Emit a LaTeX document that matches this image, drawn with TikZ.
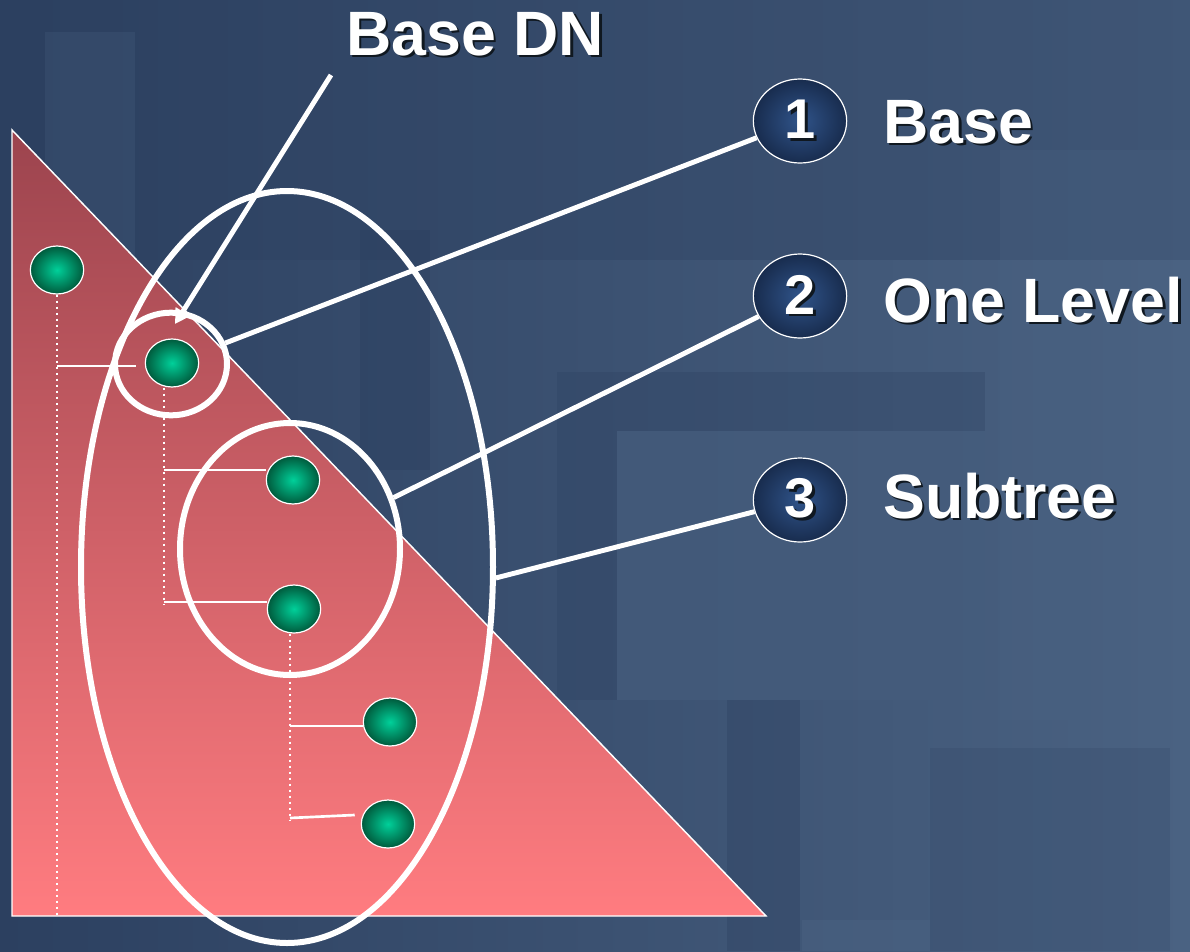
\documentclass[tikz,border=0pt]{standalone}
\usepackage{fontspec}
\setmainfont{Liberation Sans}
\usetikzlibrary{shapes.geometric,calc,arrows.meta}
\definecolor{bgdark}{HTML}{2C4060}
\definecolor{bgmid}{HTML}{3C5373}
\definecolor{bglight}{HTML}{4A6282}
\definecolor{tritop}{HTML}{9C444E}
\definecolor{tribot}{HTML}{FF7C80}
\definecolor{gin}{HTML}{00D09A}
\definecolor{gout}{HTML}{005A3C}
\definecolor{bin}{HTML}{30548A}
\definecolor{bout}{HTML}{182C4E}
\definecolor{shadowc}{HTML}{101820}
\newcommand{\shd}[1]{\makebox[0pt][l]{\hspace{2pt}\raisebox{-2pt}{\color{shadowc}#1}}#1}
\begin{document}
\begin{tikzpicture}[x=0.75pt,y=-0.75pt,
  greennode/.style={ellipse, draw=white, line width=0.9pt, inner sep=0pt,
    minimum width=40pt, minimum height=36pt, inner color=gin, outer color=gout},
  badge/.style={ellipse, draw=white, line width=0.9pt, inner sep=0pt,
    minimum width=70pt, minimum height=63pt, inner color=bin, outer color=bout,
    text=white, font=\fontsize{42}{50}\selectfont\bfseries},
  scopering/.style={ellipse, draw=white, line width=4.5pt, inner sep=0pt},
  lbl/.style={text=white, font=\fontsize{47}{56}\selectfont\bfseries, inner sep=0pt},
  conn/.style={draw=white, line width=3.7pt},
  dots/.style={draw=white, line width=2pt, dash pattern=on 2pt off 2.5pt},
  stem/.style={draw=white, line width=2pt}]
\useasboundingbox (0,0) rectangle (1190,951);
% background
\shade[left color=bgdark, right color=bglight] (0,0) rectangle (1190,951);
\fill[bgdark, opacity=0.35] (0,0) rectangle (1190,260);
\fill[bglight, opacity=0.25] (45,32) rectangle (135,300);
\fill[bgdark, opacity=0.45] (360,230) rectangle (430,470);
\fill[bgdark, opacity=0.3] (557,372) rectangle (985,700);
\fill[bglight, opacity=0.6] (617,431) rectangle (985,700);
\fill[bgdark, opacity=0.35] (727,700) rectangle (800,951);
\fill[bgdark, opacity=0.2] (930,748) rectangle (1170,951);
\fill[bglight, opacity=0.5] (802,920) rectangle (930,951);
\fill[bglight, opacity=0.3] (1000,150) rectangle (1190,720);
% triangle
\coordinate (tl) at (12,130);
\coordinate (bl) at (12,916);
\coordinate (br) at (766,916);
\shade[top color=tritop, bottom color=tribot] (tl) -- (bl) -- (br) -- cycle;
\draw[white, line width=1.1pt] (tl) -- (bl) -- (br) -- cycle;
% tree nodes
\node[greennode] (n1) at (57,270) {};
\node[greennode] (n2) at (172,363) {};
\node[greennode] (n3) at (293,480) {};
\node[greennode] (n4) at (294,609) {};
\node[greennode] (n5) at (390,722) {};
\node[greennode] (n6) at (388,824) {};
% tree lines
\draw[dots] (n1.south) -- (n1.south |- bl);
\draw[stem] ($(n1.south |- n2.west)+(0,3)$) -- ($(n2.west)+(-9,3)$);
\coordinate (t2) at ($(n2.south)+(-8,0)$);
\draw[dots] (t2) -- ($(t2 |- n4.west)+(0,-5)$);
\draw[stem] ($(t2 |- n3.west)+(0,-10)$) -- ($(n3.west)+(0,-10)$);
\draw[stem] ($(t2 |- n4.west)+(0,-7)$) -- ($(n4.west)+(0,-7)$);
\coordinate (t4) at ($(n4.south)+(-4,0)$);
\draw[dots] (t4) -- ($(t4 |- n6.west)+(0,-4)$);
\draw[stem] ($(t4 |- n5.west)+(0,4)$) -- ($(n5.west)+(0,4)$);
\draw[stem] ($(t4 |- n6.west)+(0,-6)$) -- ($(n6.west)+(-6,-9)$);
% scope rings
\node[scopering, minimum width=84pt, minimum height=77pt] (sel1) at (171,364) {};
\node[scopering, minimum width=165pt, minimum height=189pt] (sel2) at (290,549) {};
\node[scopering, minimum width=309pt, minimum height=564pt] (sel3) at (287,567) {};
% badges and labels
\node[badge] (b1) at (800,121) {\shd{1}};
\node[badge] (b2) at (800,296) {\shd{2}};
\node[badge] (b3) at (800,500) {\shd{3}};
\node[lbl, anchor=base west] (l1) at (883,143) {\shd{Base}};
\node[lbl, anchor=base west] (l2) at (883,322) {\shd{One Level}};
\node[lbl, anchor=base west] (l3) at (883,518) {\shd{Subtree}};
\node[lbl, anchor=base] (dn) at (475,55) {\shd{Base DN}};
% connectors
\draw[conn] (b1) -- (sel1);
\draw[conn] (b2) -- (sel2);
\draw[conn] (b3) -- (sel3.-3);
\coordinate (dnstart) at (331,75);
\coordinate (dntip) at (175,324);
\draw[conn, -{Triangle[length=11pt,width=12pt]}] (dnstart) -- (dntip);
\end{tikzpicture}
\end{document}
